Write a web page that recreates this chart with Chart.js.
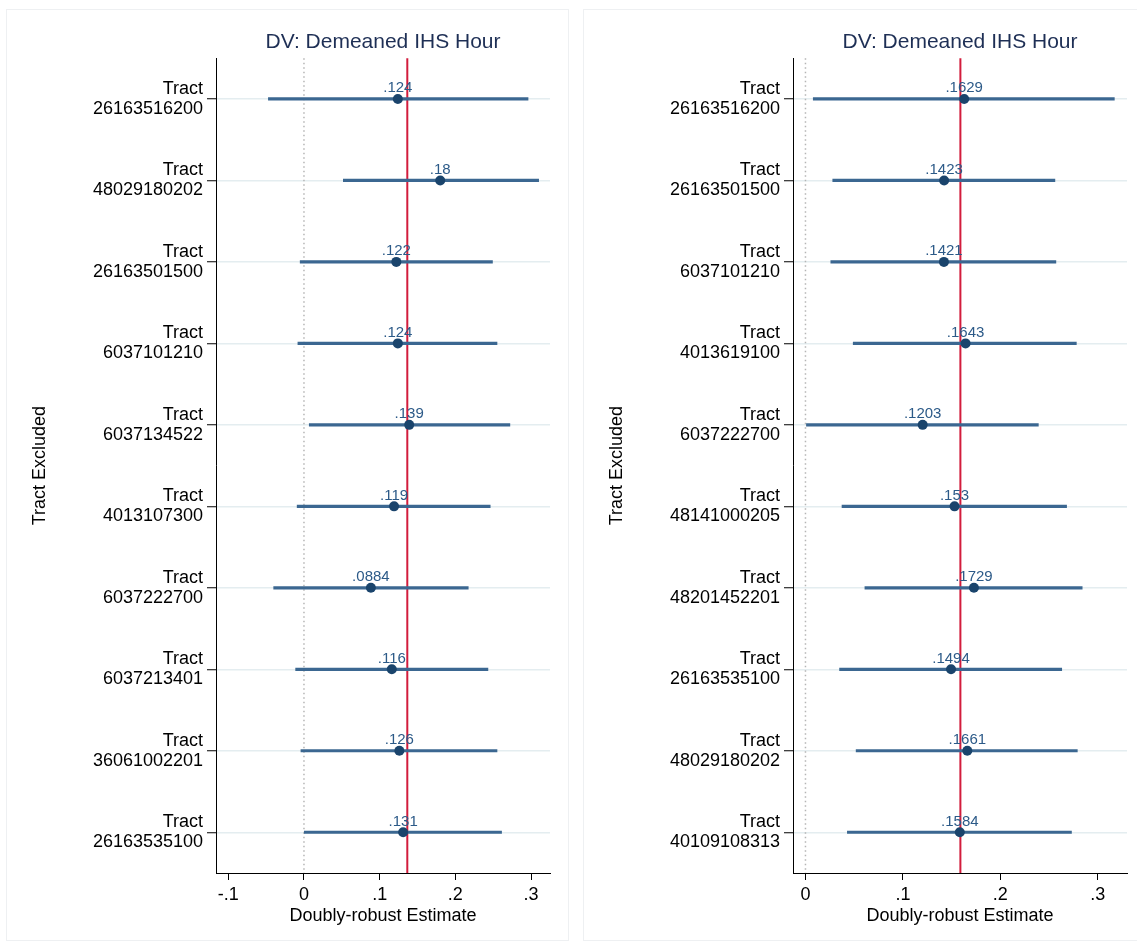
<!DOCTYPE html>
<html>
<head>
<meta charset="utf-8">
<script src="https://cdn.jsdelivr.net/npm/chart.js@4"></script>
<style>
    body { margin: 0; background: #fff; width: 1137px; height: 942px; overflow: hidden; position: relative; }
    .panel { position: absolute; top: 9px; border: 1px solid #eef0f2; background: #fff; overflow: hidden; }
    #leftBox { left: 6px; width: 561px; height: 930px; }
    #rightBox { left: 583px; width: 561px; height: 930px; }
</style>
</head>
<body>
<div class="panel" id="leftBox"><canvas id="chartLeft" width="561" height="930"></canvas></div>
<div class="panel" id="rightBox"><canvas id="chartRight" width="561" height="930"></canvas></div>
<script>
// data - panel kiri
const tractsLeft = ['26163516200', '48029180202', '26163501500', '6037101210', '6037134522',
    '4013107300', '6037222700', '6037213401', '36061002201', '26163535100'];
const estLeft = [0.124, 0.18, 0.122, 0.124, 0.139, 0.119, 0.0884, 0.116, 0.126, 0.131];
const loLeft = [-0.047, 0.052, -0.005, -0.008, 0.007, -0.009, -0.040, -0.011, -0.004, 0.0004];
const hiLeft = [0.296, 0.310, 0.249, 0.255, 0.272, 0.246, 0.217, 0.243, 0.255, 0.261];
const refLeft = 0.1365;
const xTicksLeft = [-0.1, 0, 0.1, 0.2, 0.3];
const xRangeLeft = [-0.1162, 0.325];

// data - panel kanan
const tractsRight = ['26163516200', '26163501500', '6037101210', '4013619100', '6037222700',
    '48141000205', '48201452201', '26163535100', '48029180202', '40109108313'];
const estRight = [0.1629, 0.1423, 0.1421, 0.1643, 0.1203, 0.153, 0.1729, 0.1494, 0.1661, 0.1584];
const loRight = [0.008, 0.028, 0.026, 0.049, 0.001, 0.0375, 0.061, 0.035, 0.052, 0.043];
const hiRight = [0.317, 0.256, 0.257, 0.278, 0.239, 0.268, 0.284, 0.263, 0.279, 0.273];
const refRight = 0.159;
const xTicksRight = [0, 0.1, 0.2, 0.3];
const xRangeRight = [-0.0128, 0.330];

const titleText = 'DV: Demeaned IHS Hour';
const fontFam = "Helvetica, Arial, 'Liberation Sans', sans-serif";

// format angka ala Stata: .124, -.1
const stataFmt = v => String(v).replace(/^(-?)0\./, '$1.');

// garis nol (titik-titik) dan garis referensi merah
const refLines = {
    id: 'refLines',
    beforeDatasetsDraw(chart, args, opts) {
        const { ctx, chartArea, scales } = chart;
        const x0 = scales.x.getPixelForValue(0);
        const xr = scales.x.getPixelForValue(opts.ref);
        ctx.save();
        ctx.strokeStyle = '#b5b5b5';
        ctx.lineWidth = 1.5;
        ctx.setLineDash([1.5, 3]);
        ctx.beginPath();
        ctx.moveTo(x0, chartArea.top);
        ctx.lineTo(x0, chartArea.bottom);
        ctx.stroke();
        ctx.setLineDash([]);
        ctx.strokeStyle = '#d21c3c';
        ctx.lineWidth = 2;
        ctx.beginPath();
        ctx.moveTo(xr, chartArea.top);
        ctx.lineTo(xr, chartArea.bottom);
        ctx.stroke();
        ctx.restore();
    }
};

// label nilai di atas titik
const pointLabels = {
    id: 'pointLabels',
    afterDatasetsDraw(chart) {
        const { ctx } = chart;
        const ds = chart.data.datasets[1];
        const meta = chart.getDatasetMeta(1);
        ctx.save();
        ctx.font = '15px ' + fontFam;
        ctx.fillStyle = '#2c5a88';
        ctx.textAlign = 'center';
        ctx.textBaseline = 'alphabetic';
        meta.data.forEach((el, i) => {
            ctx.fillText(stataFmt(ds.data[i].x), el.x, el.y - 6.5);
        });
        ctx.restore();
    }
};

function makeChart(canvasId, tracts, est, lo, hi, ref, xTicks, xRange) {
    const ctx = document.getElementById(canvasId).getContext('2d');
    return new Chart(ctx, {
        type: 'bar',
        data: {
            labels: tracts.map(t => ['Tract', t]),
            datasets: [{
                type: 'bar',
                data: lo.map((v, i) => [v, hi[i]]),
                backgroundColor: '#3b6791',
                borderWidth: 0,
                barThickness: 2.5,
                order: 1
            }, {
                type: 'scatter',
                data: est.map((v, i) => ({ x: v, y: i })),
                backgroundColor: '#1a446c',
                borderColor: '#1a446c',
                pointRadius: 5,
                pointBorderWidth: 0,
                order: 0
            }]
        },
        options: {
            indexAxis: 'y',
            responsive: false,
            animation: false,
            layout: { padding: { left: 18, right: 18, top: 0, bottom: 9 } },
            scales: {
                x: {
                    type: 'linear',
                    min: xRange[0],
                    max: xRange[1],
                    afterBuildTicks: s => { s.ticks = xTicks.map(v => ({ value: v })); },
                    afterFit: s => { s.height = 58; },
                    ticks: {
                        callback: v => stataFmt(v),
                        color: '#000',
                        font: { family: fontFam, size: 18 },
                        padding: 4,
                        maxRotation: 0
                    },
                    grid: { drawOnChartArea: false, drawTicks: true, tickLength: 7, tickColor: '#000', tickWidth: 1 },
                    border: { display: true, color: '#000', width: 1 },
                    title: {
                        display: true,
                        text: 'Doubly-robust Estimate',
                        color: '#000',
                        font: { family: fontFam, size: 18 },
                        padding: { top: 4, bottom: 4 }
                    }
                },
                y: {
                    type: 'category',
                    offset: true,
                    afterFit: s => { s.width = 191; },
                    ticks: {
                        color: '#000',
                        font: { family: fontFam, size: 18, lineHeight: 1.1 },
                        padding: 4,
                        autoSkip: false
                    },
                    grid: {
                        offset: false,
                        color: '#e4edf0',
                        lineWidth: 1.5,
                        drawTicks: true,
                        tickLength: 9,
                        tickColor: '#000',
                        tickWidth: 1
                    },
                    border: { display: true, color: '#000', width: 1 },
                    title: {
                        display: true,
                        text: 'Tract Excluded',
                        color: '#000',
                        font: { family: fontFam, size: 18 },
                        padding: { top: 4, bottom: 4 }
                    }
                }
            },
            plugins: {
                legend: { display: false },
                tooltip: { enabled: false },
                title: {
                    display: true,
                    text: titleText,
                    fullSize: false,
                    color: '#1e2f55',
                    font: { family: fontFam, size: 21, weight: 'normal', lineHeight: 1.2 },
                    padding: { top: 20, bottom: 3 }
                },
                refLines: { ref: ref }
            }
        },
        plugins: [refLines, pointLabels]
    });
}

const chartLeft = makeChart('chartLeft', tractsLeft, estLeft, loLeft, hiLeft, refLeft, xTicksLeft, xRangeLeft);
const chartRight = makeChart('chartRight', tractsRight, estRight, loRight, hiRight, refRight, xTicksRight, xRangeRight);
</script>
</body>
</html>
